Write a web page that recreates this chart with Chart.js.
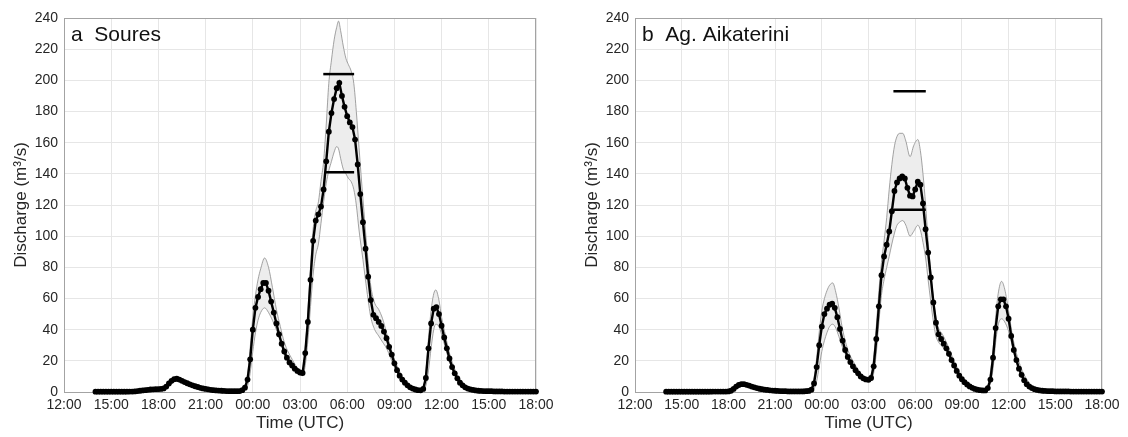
<!DOCTYPE html>
<html lang="en">
<head>
    <meta charset="UTF-8">
    <title>Discharge - Soures / Ag. Aikaterini</title>
    <script src="https://cdn.jsdelivr.net/npm/chart.js@4.4.1/dist/chart.umd.min.js"></script>
    <style>
        html, body { margin: 0; padding: 0; background: #fff; }
        #wrap { position: relative; width: 1128px; height: 437px; }
        .panel { position: absolute; top: 0; width: 564px; height: 437px; }
    </style>
</head>
<body>
<div id="wrap">
    <div class="panel" style="left:0"><canvas id="chartA" width="564" height="437"></canvas></div>
    <div class="panel" style="left:564px"><canvas id="chartB" width="564" height="437"></canvas></div>
</div>

<script>
    // time axis: hours since 12:00 on day 1 (0 = 12:00, 30 = 18:00 next day)
    const timeTicks = ['12:00', '15:00', '18:00', '21:00', '00:00', '03:00', '06:00', '09:00', '12:00', '15:00', '18:00'];

    // mean series sampled every 10 min from 14:00
    const meanStart = 2;
    const meanStep = 1 / 6;

    // a  Soures - mean discharge (m3/s), one row per hour
    const meanA = [
        0.2, 0.2, 0.2, 0.2, 0.2, 0.2,      // 14:00
        0.2, 0.2, 0.2, 0.2, 0.2, 0.2,      // 15:00
        0.2, 0.3, 0.3, 0.4, 0.6, 0.8,      // 16:00
        1.0, 1.2, 1.4, 1.6, 1.7, 1.8,      // 17:00
        1.9, 2.0, 2.3, 3.5, 5.5, 7.2,      // 18:00
        8.2, 8.5, 8.0, 7.2, 6.4, 5.6,      // 19:00
        4.9, 4.3, 3.7, 3.2, 2.7, 2.3,      // 20:00
        2.0, 1.7, 1.4, 1.2, 1.0, 0.9,      // 21:00
        0.8, 0.7, 0.6, 0.5, 0.5, 0.5,      // 22:00
        0.5, 0.6, 1.2, 2.8, 8, 21,         // 23:00
        40, 54, 61, 66, 70, 70,            // 00:00
        65, 58, 51, 44, 37, 31,            // 01:00
        26, 22, 19, 17, 15, 13.5,          // 02:00
        12.5, 12.2, 25, 45, 72, 97,        // 03:00
        110, 114, 119, 130, 148, 167,      // 04:00
        179, 188, 195, 198.4, 190, 183,    // 05:00
        177, 173, 170, 162, 146, 127,      // 06:00
        109, 92, 74, 59, 49.5, 47.4,       // 07:00
        45, 42.4, 38.8, 34.5, 29, 24,      // 08:00
        18.4, 14, 10.5, 8, 6, 4.3,         // 09:00
        3.0, 2.2, 1.6, 1.2, 1.1, 2.0,      // 10:00
        9, 28, 44, 53.5, 54.5, 50,         // 11:00
        42.5, 35, 28, 21.5, 16, 12,        // 12:00
        8.8, 6, 4.3, 3, 2.2, 1.7,          // 13:00
        1.3, 1.0, 0.8, 0.7, 0.6, 0.5,      // 14:00
        0.5, 0.5, 0.4, 0.4, 0.4, 0.4,      // 15:00
        0.3, 0.3, 0.3, 0.3, 0.3, 0.3,      // 16:00
        0.3, 0.3, 0.3, 0.3, 0.3, 0.3,      // 17:00
        0.3                                // 18:00
    ];

    // a  Soures - uncertainty band
    const bandTimesA = [2, 4, 5, 6, 6.5, 7.17, 8, 9, 10, 11,
        11.33, 11.5, 11.67, 11.83,
        12, 12.17, 12.33, 12.5, 12.75,
        13, 13.25, 13.5, 13.75,
        14, 14.5,
        15, 15.17, 15.33, 15.5, 15.67, 15.83,
        16, 16.17, 16.33, 16.5, 16.67, 16.83,
        17, 17.17, 17.33, 17.45, 17.58, 17.75, 17.92,
        18.08, 18.25, 18.42, 18.58, 18.75,
        19, 19.25, 19.5, 19.75,
        20, 20.25, 20.5, 20.75,
        21, 21.5,
        22, 22.5, 22.83,
        23, 23.17, 23.33, 23.5, 23.63, 23.83,
        24, 24.25, 24.5, 24.75,
        25, 25.5,
        26, 27, 30];
    const upperA = [0.3, 0.3, 1.2, 2.2, 4.5, 9.8, 5.5, 2.3, 1.0, 0.7,
        1.5, 4, 12, 28,
        48, 62, 72, 79, 86,
        80, 67, 53, 42,
        32, 21,
        13.5, 13, 28, 52, 80, 104,
        116, 122, 135, 148, 172, 198,
        213, 226, 234, 238, 232, 222, 214,
        210, 206, 198, 180, 157,
        124, 93, 68, 57,
        53, 47, 38, 29,
        21, 10,
        3.5, 1.5, 2.8,
        13, 35, 52, 63, 65.5, 59,
        48, 36, 25, 17,
        11, 4.5,
        2, 0.6, 0.3];
    const lowerA = [0.1, 0.1, 0.8, 1.6, 2.5, 7, 4.3, 1.7, 0.6, 0.4,
        0.8, 1.5, 4, 12,
        26, 38, 46, 51, 54,
        51, 46, 40, 33,
        24, 15.5,
        11, 10.5, 17, 33, 55, 75,
        88, 95, 108, 122, 134, 142,
        148, 154, 157.5, 156, 150, 143, 140,
        137, 135, 130, 120, 104,
        85, 65, 48, 40,
        36, 32, 28, 22,
        16, 7,
        2.5, 0.8, 1.0,
        4, 14, 28, 40, 43.5, 42,
        37, 28, 19.5, 13,
        7.5, 2.5,
        1.0, 0.4, 0.2];

    // a  Soures - horizontal reference marks
    const markStartA = [16.48, 16.63];
    const markEndA = [18.44, 18.44];
    const markLevelA = [204, 141];

    // b  Ag. Aikaterini - mean discharge
    const meanB = [
        0.2, 0.2, 0.2, 0.2, 0.2, 0.2,      // 14:00
        0.2, 0.2, 0.2, 0.2, 0.2, 0.2,      // 15:00
        0.2, 0.2, 0.2, 0.2, 0.2, 0.2,      // 16:00
        0.3, 0.3, 0.3, 0.3, 0.3, 0.3,      // 17:00
        0.4, 0.8, 2.0, 3.5, 4.5, 5.0,      // 18:00
        5.0, 4.6, 4.1, 3.5, 3.0, 2.5,      // 19:00
        2.1, 1.8, 1.5, 1.3, 1.1, 0.9,      // 20:00
        0.8, 0.7, 0.6, 0.5, 0.5, 0.4,      // 21:00
        0.4, 0.4, 0.4, 0.4, 0.4, 0.4,      // 22:00
        0.5, 0.7, 1.5, 5.5, 16, 30,        // 23:00
        42, 50, 53.5, 56, 56.7, 54,        // 00:00
        48, 40.5, 33, 27, 22.5, 19.2,      // 01:00
        16.5, 14, 12, 10, 8.8, 8.1,        // 02:00
        7.8, 9, 16.5, 34, 55, 75,          // 03:00
        87, 94.5, 103, 116, 129, 134.5,    // 04:00
        137, 138.3, 137, 131, 126, 125.5,  // 05:00
        130, 135, 133, 121, 104.5, 89.5,   // 06:00
        73.5, 57.5, 44.5, 37, 34, 31,      // 07:00
        28, 24.5, 20.5, 17, 13.5, 10.5,    // 08:00
        8.2, 6.3, 4.8, 3.6, 2.7, 2.0,      // 09:00
        1.5, 1.2, 1.0, 1.0, 2.5, 8,        // 10:00
        22, 41, 55, 59.5, 59.5, 55,        // 11:00
        47, 36, 27, 20.5, 15, 11,          // 12:00
        7.5, 5, 3.5, 2.5, 1.8, 1.3,        // 13:00
        1.0, 0.8, 0.7, 0.6, 0.5, 0.5,      // 14:00
        0.4, 0.4, 0.4, 0.4, 0.4, 0.4,      // 15:00
        0.3, 0.3, 0.3, 0.3, 0.3, 0.3,      // 16:00
        0.3, 0.3, 0.3, 0.3, 0.3, 0.3,      // 17:00
        0.3                                // 18:00
    ];

    // b  Ag. Aikaterini - uncertainty band
    const bandTimesB = [2, 4, 6, 6.5, 6.83, 7.5, 8, 9, 10, 10.5, 11,
        11.33, 11.5, 11.67, 11.83,
        12, 12.17, 12.33, 12.5, 12.7, 12.9,
        13.1, 13.3, 13.5, 13.75,
        14, 14.5,
        15, 15.17, 15.33, 15.5, 15.67, 15.83,
        16, 16.17, 16.33, 16.5, 16.67, 16.83,
        17, 17.2, 17.4, 17.67, 17.9,
        18.17, 18.33, 18.5, 18.67, 18.83,
        19, 19.17, 19.33, 19.5, 19.75,
        20, 20.5,
        21, 21.5,
        22, 22.5, 22.75,
        23, 23.17, 23.33, 23.55, 23.75,
        24, 24.25, 24.5, 24.75,
        25, 25.5,
        26, 27, 30];
    const upperB = [0.3, 0.3, 0.6, 4.2, 5.8, 4, 2.3, 1.0, 0.6, 1.3, 2.2,
        3, 9, 22, 38,
        52, 60, 65, 68.5, 70, 64,
        54, 42, 33, 25,
        20, 12,
        8.5, 11, 22, 42, 65, 83,
        97, 112, 130, 146, 158, 164,
        166, 166, 161, 151, 158,
        162, 155, 140, 120, 97,
        77, 60, 48, 41, 37,
        32, 20,
        10, 4.5,
        2, 1.5, 8,
        27, 48, 63, 71, 66,
        52, 36, 25, 17,
        11, 4,
        1.5, 0.6, 0.4];
    const lowerB = [0.1, 0.1, 0.3, 2.5, 4, 2.8, 1.6, 0.5, 0.3, 0.3, 0.4,
        0.6, 2, 7, 16,
        26, 33, 38, 42, 43.5, 41,
        35.5, 29.5, 24.5, 19,
        15, 9,
        7, 7.5, 12, 25, 45, 62,
        72, 80, 87, 95, 102, 107,
        109, 110, 107, 100, 103,
        107, 104, 96, 86, 72,
        58, 45, 36, 32, 29,
        26, 16,
        7, 3,
        1.2, 0.8, 3,
        15, 32, 43, 47, 45,
        39, 29, 19, 12,
        6.5, 2,
        0.8, 0.3, 0.2];

    const markStartB = [16.6, 16.63];
    const markEndB = [18.68, 18.68];
    const markLevelB = [193, 117];

    const FONT = "'Liberation Sans', Arial, Helvetica, sans-serif";
    const TEXT = '#262626';

    function toPoints(xs, ys) {
        return xs.map((x, i) => ({x: x, y: ys[i]}));
    }

    function meanTimes(values) {
        return values.map((v, i) => meanStart + i * meanStep);
    }

    // box around the axes + panel label in the top-left corner
    const framePlugin = {
        id: 'frame',
        beforeDatasetsDraw(chart) {
            const {ctx, chartArea: a} = chart;
            ctx.save();
            ctx.strokeStyle = '#a3a3a3';
            ctx.lineWidth = 1;
            ctx.strokeRect(a.left + 0.5, a.top + 0.5, a.right - a.left - 1, a.bottom - a.top);
            ctx.restore();
        },
        afterDraw(chart, args, opts) {
            const {ctx, chartArea: a} = chart;
            ctx.save();
            ctx.fillStyle = '#111';
            ctx.font = '21px ' + FONT;
            ctx.textBaseline = 'alphabetic';
            ctx.fillText(opts.label, a.left + 7, a.top + 23);
            ctx.restore();
        }
    };

    function makePanel(id, p) {
        const datasets = [
            {   // upper bound, filled down to the lower bound
                data: toPoints(p.bandTimes, p.upper),
                borderColor: '#8c8c8c', borderWidth: 0.8,
                backgroundColor: '#ededed', fill: '+1',
                pointRadius: 0, cubicInterpolationMode: 'monotone', order: 3
            },
            {
                data: toPoints(p.bandTimes, p.lower),
                borderColor: '#8c8c8c', borderWidth: 0.8,
                fill: false, pointRadius: 0, cubicInterpolationMode: 'monotone', order: 2
            },
            {
                data: toPoints(meanTimes(p.mean), p.mean),
                borderColor: '#000', borderWidth: 2.4,
                pointRadius: 2.9, pointBackgroundColor: '#000', pointBorderWidth: 0,
                fill: false, tension: 0, clip: false, order: 1
            }
        ];
        p.markLevel.forEach((lvl, i) => {
            datasets.push({
                data: [{x: p.markStart[i], y: lvl}, {x: p.markEnd[i], y: lvl}],
                borderColor: '#000', borderWidth: 2.5, pointRadius: 0, fill: false, order: 0
            });
        });

        return new Chart(document.getElementById(id), {
            type: 'line',
            data: {datasets: datasets},
            plugins: [framePlugin],
            options: {
                responsive: false,
                animation: false,
                devicePixelRatio: 1,
                layout: {padding: {top: 18, right: p.padRight, bottom: 0, left: 0}},
                plugins: {
                    legend: {display: false},
                    tooltip: {enabled: false},
                    frame: {label: p.label}
                },
                scales: {
                    x: {
                        type: 'linear', min: 0, max: 30,
                        grid: {color: '#e6e6e6', drawTicks: false},
                        border: {display: false},
                        ticks: {
                            stepSize: 3, autoSkip: false, maxRotation: 0, padding: 5,
                            color: TEXT, font: {family: FONT, size: 14},
                            callback: (v) => timeTicks[Math.round(v / 3)]
                        },
                        title: {
                            display: true, text: 'Time (UTC)', color: TEXT,
                            font: {family: FONT, size: 17}, padding: {top: 0, bottom: 3}
                        },
                        afterFit: (s) => { s.height = 45; }
                    },
                    y: {
                        min: 0, max: 240,
                        grid: {color: '#e6e6e6', drawTicks: false},
                        border: {display: false},
                        ticks: {
                            stepSize: 20, padding: 6,
                            color: TEXT, font: {family: FONT, size: 14}
                        },
                        title: {
                            display: true, text: 'Discharge (m³/s)', color: TEXT,
                            font: {family: FONT, size: 17}, padding: {top: p.titlePad, bottom: 0}
                        },
                        afterFit: (s) => { s.width = p.axisLeft; }
                    }
                }
            }
        });
    }

    makePanel('chartA', {
        label: 'a  Soures', mean: meanA,
        bandTimes: bandTimesA, upper: upperA, lower: lowerA,
        markStart: markStartA, markEnd: markEndA, markLevel: markLevelA,
        axisLeft: 64, padRight: 28, titlePad: 11
    });
    makePanel('chartB', {
        label: 'b  Ag. Aikaterini', mean: meanB,
        bandTimes: bandTimesB, upper: upperB, lower: lowerB,
        markStart: markStartB, markEnd: markEndB, markLevel: markLevelB,
        axisLeft: 71, padRight: 26, titlePad: 18
    });
</script>
</body>
</html>
